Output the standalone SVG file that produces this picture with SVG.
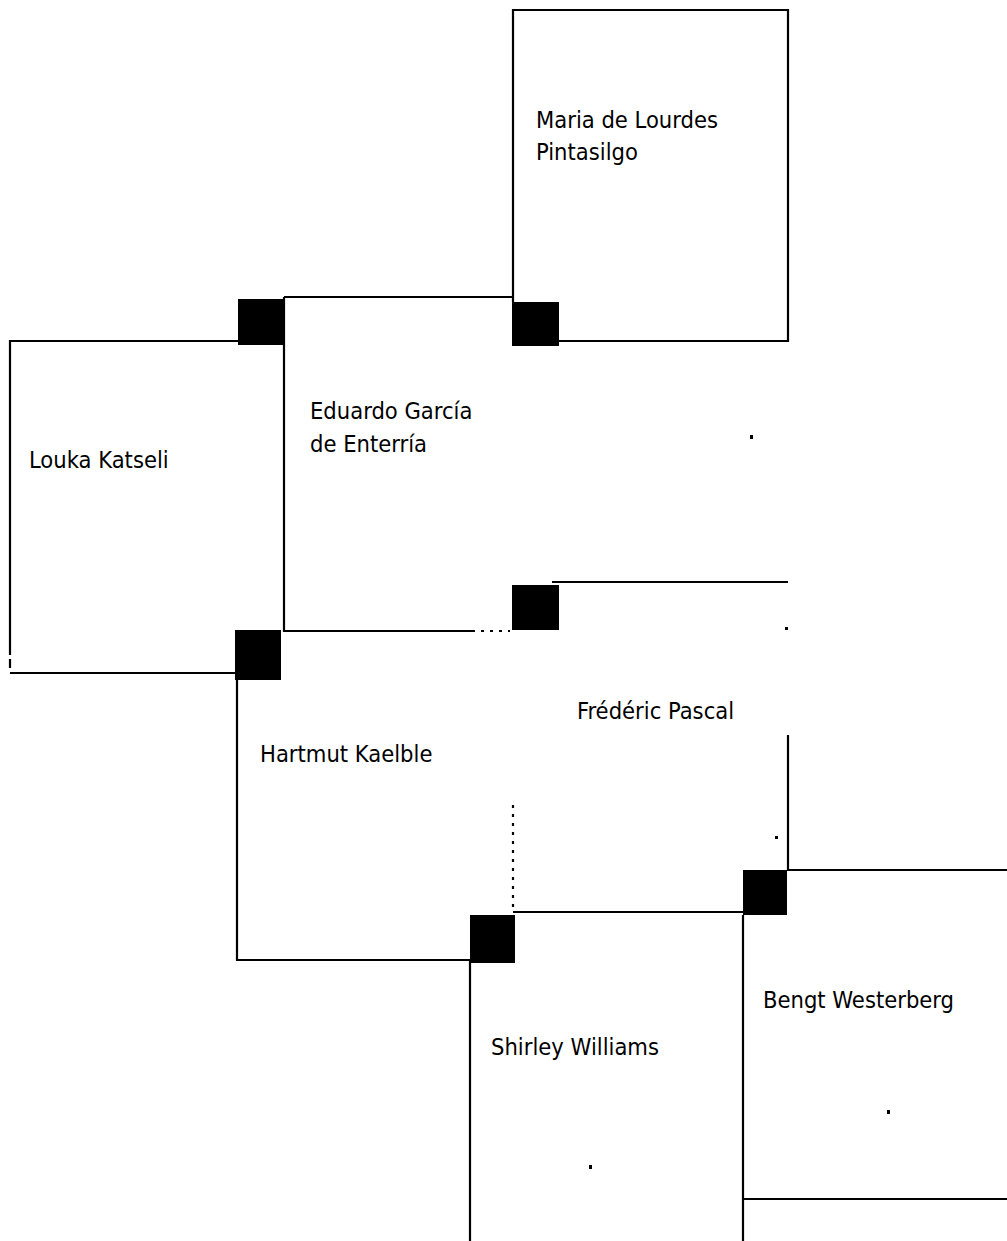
<svg xmlns="http://www.w3.org/2000/svg" width="1007" height="1241" viewBox="0 0 1007 1241">
<style>
.edge{fill:none;stroke:#000;stroke-width:2.2}
.dash{fill:none;stroke:#000;stroke-width:2.2;stroke-dasharray:3 6}
.lbl{font-family:"DejaVu Sans Condensed","Liberation Sans",sans-serif;font-size:23.5px;fill:#000}
.sq{fill:#000}
.dot{fill:#000}
</style>
<rect width="1007" height="1241" fill="#fff"/>
<g id="node-maria">
<path class="edge" d="M513,302 V10 H788 V341 H559"/>
<text class="lbl" x="536" y="128">Maria de Lourdes</text>
<text class="lbl" x="536" y="160">Pintasilgo</text>
</g>
<g id="node-eduardo">
<path class="edge" d="M284,297 H513"/>
<path class="edge" d="M284,297 V631 H475"/>
<path class="dash" d="M481,631 H510"/>
<rect class="dot" x="750" y="435" width="3" height="4"/>
<text class="lbl" x="310" y="419">Eduardo García</text>
<text class="lbl" x="310" y="452">de Enterría</text>
</g>
<g id="node-louka">
<path class="edge" d="M238,341 H10 V655"/>
<path class="edge" d="M10,659 V668"/>
<path class="edge" d="M10,673 H237"/>
<text class="lbl" x="29" y="468">Louka Katseli</text>
</g>
<g id="node-hartmut">
<path class="edge" d="M237,673 V960 H470"/>
<path class="dash" d="M513,805 V912"/>
<text class="lbl" x="260" y="762">Hartmut Kaelble</text>
</g>
<g id="node-frederic">
<path class="edge" d="M552,582 H788"/>
<path class="edge" d="M788,735 V870"/>
<path class="edge" d="M513,912 H743"/>
<rect class="dot" x="785" y="627" width="3" height="3"/>
<rect class="dot" x="775" y="836" width="3" height="3"/>
<text class="lbl" x="577" y="719">Frédéric Pascal</text>
</g>
<g id="node-bengt">
<path class="edge" d="M787,870 H1007"/>
<path class="edge" d="M743,915 V1241"/>
<path class="edge" d="M743,1199 H1007"/>
<rect class="dot" x="887" y="1110" width="3" height="4"/>
<text class="lbl" x="763" y="1008">Bengt Westerberg</text>
</g>
<g id="node-shirley">
<path class="edge" d="M470,960 V1241"/>
<rect class="dot" x="589" y="1165" width="3" height="4"/>
<text class="lbl" x="491" y="1055">Shirley Williams</text>
</g>
<g id="connectors">
<rect class="sq" x="238" y="299" width="46" height="46"/>
<rect class="sq" x="512" y="302" width="47" height="44"/>
<rect class="sq" x="235" y="630" width="46" height="50"/>
<rect class="sq" x="512" y="585" width="47" height="45"/>
<rect class="sq" x="743" y="870" width="44" height="45"/>
<rect class="sq" x="470" y="915" width="45" height="48"/>
</g>
</svg>
